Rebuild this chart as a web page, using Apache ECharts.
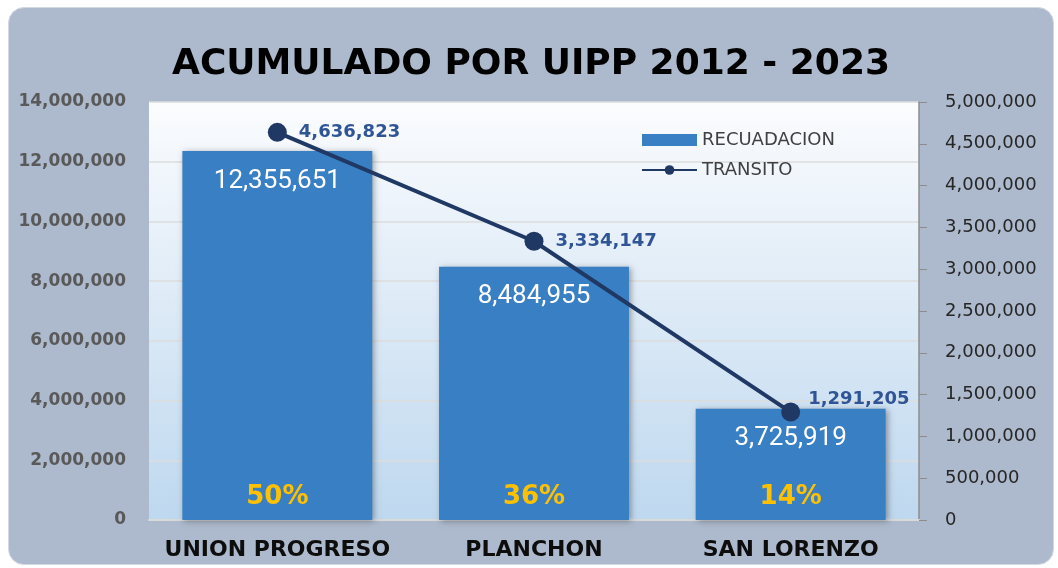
<!DOCTYPE html>
<html>
<head>
<meta charset="utf-8">
<script src="https://cdn.jsdelivr.net/npm/echarts@6/dist/echarts.min.js"></script>
<style>
  html, body { margin: 0; padding: 0; background: #fff; overflow: hidden; }
  #chart {
    position: absolute; left: 8px; top: 7px; width: 1046px; height: 558px;
    background: #adb9cc; border-radius: 16px; border: 1px solid #d3d9e2; box-sizing: border-box;
  }
</style>
</head>
<body>
<div id="chart"></div>
<script>
// datos del grafico
const categorias = ['UNION PROGRESO', 'PLANCHON', 'SAN LORENZO']
const recaudacion = [12355651, 8484955, 3725919]
const transito = [4636823, 3334147, 1291205]
const porcentajes = ['50%', '36%', '14%']

const fmt = v => v.toLocaleString('en-US')

const chart = echarts.init(document.getElementById('chart'))

// posicion de etiquetas de la linea (la ultima va arriba)
const lineLabelOffsets = [[4, 0], [4, 0], [0, -13]]

const option = {
  backgroundColor: 'transparent',
  title: {
    text: 'ACUMULADO POR UIPP 2012 - 2023',
    left: 'center',
    top: 34,
    textStyle: { fontFamily: 'DejaVu Sans', fontWeight: 'bold', fontSize: 36, color: '#000' }
  },
  legend: {
    orient: 'vertical',
    left: 627,
    top: 118,
    itemWidth: 55,
    itemHeight: 12,
    itemGap: 12,
    textStyle: { fontFamily: 'DejaVu Sans', fontSize: 18, color: '#404040' },
    data: [
      { name: 'RECUADACION', icon: 'rect' },
      { name: 'TRANSITO' }
    ]
  },
  grid: {
    left: 140, right: 134, top: 94, bottom: 44,
    show: true,
    borderWidth: 0,
    backgroundColor: new echarts.graphic.LinearGradient(0, 0, 0, 1, [
      { offset: 0, color: '#fbfcfe' },
      { offset: 1, color: '#bed8ef' }
    ])
  },
  xAxis: {
    type: 'category',
    data: categorias,
    axisLine: { lineStyle: { color: '#d9d9d9', width: 2 } },
    axisTick: { show: false },
    axisLabel: { interval: 0, fontFamily: 'DejaVu Sans', fontWeight: 'bold', fontSize: 22, color: '#0d0d0d', margin: 19 }
  },
  yAxis: [
    {
      type: 'value', min: 0, max: 14000000, interval: 2000000,
      axisLine: { show: false },
      axisTick: { show: false },
      splitLine: { lineStyle: { color: '#dcdcdc', width: 1.5 } },
      axisLabel: { fontFamily: 'DejaVu Sans', fontWeight: 'bold', fontSize: 17, color: '#595959', margin: 23, formatter: fmt }
    },
    {
      type: 'value', min: 0, max: 5000000, interval: 500000,
      axisLine: { show: true, lineStyle: { color: '#8c8c8c', width: 1.5 } },
      axisTick: { show: true, length: 8, lineStyle: { color: '#8c8c8c' } },
      splitLine: { show: false },
      axisLabel: { fontFamily: 'DejaVu Sans', fontSize: 18, color: '#262626', margin: 26, formatter: fmt }
    }
  ],
  series: [
    {
      name: 'RECUADACION',
      type: 'bar',
      barWidth: '74%',
      data: recaudacion,
      itemStyle: {
        color: '#397fc4',
        shadowBlur: 6, shadowColor: 'rgba(0,0,0,0.35)', shadowOffsetX: 2, shadowOffsetY: 1
      },
      label: {
        show: true, position: 'insideTop', distance: 17,
        fontFamily: 'Roboto', fontSize: 26, color: '#fff',
        formatter: p => fmt(p.value)
      },
      z: 2
    },
    {
      // porcentajes en la base de cada barra
      name: 'porcentaje',
      type: 'bar',
      barWidth: '74%',
      barGap: '-100%',
      data: recaudacion,
      itemStyle: { color: 'transparent' },
      label: {
        show: true, position: 'insideBottom', distance: 10,
        fontFamily: 'DejaVu Sans', fontWeight: 'bold', fontSize: 26, color: '#ffc000',
        formatter: p => porcentajes[p.dataIndex]
      },
      silent: true,
      z: 3
    },
    {
      name: 'TRANSITO',
      type: 'line',
      yAxisIndex: 1,
      data: transito.map((v, i) => ({
        value: v,
        label: { offset: lineLabelOffsets[i] }
      })),
      symbol: 'circle',
      symbolSize: 19,
      lineStyle: { color: '#203864', width: 4 },
      itemStyle: { color: '#203864' },
      label: {
        show: true, position: 'right', distance: 8,
        fontFamily: 'DejaVu Sans', fontWeight: 'bold', fontSize: 18, color: '#2f5597',
        formatter: p => fmt(p.value)
      },
      z: 5
    }
  ]
}

chart.setOption(option)
</script>
</body>
</html>
